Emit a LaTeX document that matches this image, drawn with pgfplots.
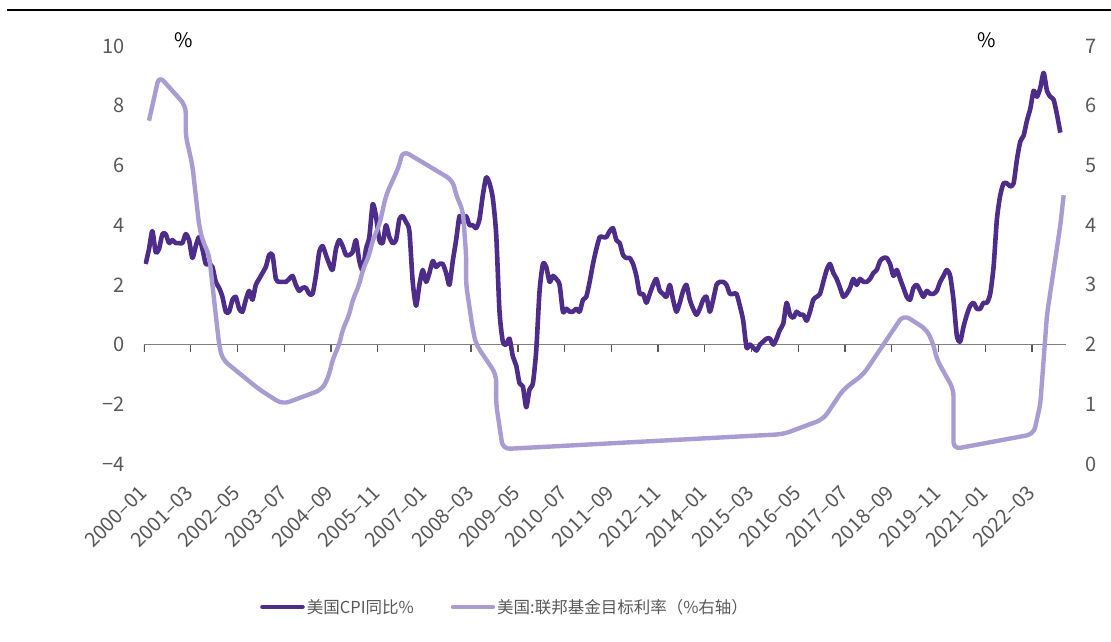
\documentclass[border=0pt]{standalone}
\usepackage{fontspec}
\setmainfont{Noto Sans CJK SC}
\usepackage{pgfplots}
\usepackage{pgfplotstable}
\pgfplotsset{compat=1.18}
\usetikzlibrary{calc}

\definecolor{cpicol}{RGB}{77,45,137}
\definecolor{ffrcol}{RGB}{168,156,210}
\definecolor{tickgray}{RGB}{89,89,89}
\definecolor{axisgray}{RGB}{128,128,128}
\newcommand\tickfont{\fontsize{20}{24}\selectfont}
\newcommand\xtickfont{\fontsize{20}{24}\selectfont}
\newcommand\legfont{\fontsize{16.5}{19}\selectfont}

% US CPI yoy, monthly 2000-01 .. 2022-11
\pgfplotstableread[header=false,row sep=\\]{
2.7\\3.2\\3.8\\3.1\\3.2\\3.7\\3.7\\3.4\\3.5\\3.4\\3.4\\3.4\\
3.7\\3.5\\2.9\\3.3\\3.6\\3.2\\2.7\\2.7\\2.6\\2.1\\1.9\\1.6\\
1.1\\1.1\\1.5\\1.6\\1.2\\1.1\\1.5\\1.8\\1.5\\2.0\\2.2\\2.4\\
2.6\\3.0\\3.0\\2.2\\2.1\\2.1\\2.1\\2.2\\2.3\\2.0\\1.8\\1.9\\
1.9\\1.7\\1.7\\2.3\\3.1\\3.3\\3.0\\2.7\\2.5\\3.2\\3.5\\3.3\\
3.0\\3.0\\3.1\\3.5\\2.8\\2.5\\3.2\\3.6\\4.7\\4.3\\3.5\\3.4\\
4.0\\3.6\\3.4\\3.5\\4.2\\4.3\\4.1\\3.8\\2.1\\1.3\\2.0\\2.5\\
2.1\\2.4\\2.8\\2.6\\2.7\\2.7\\2.4\\2.0\\2.8\\3.5\\4.3\\4.1\\
4.3\\4.0\\4.0\\3.9\\4.2\\5.0\\5.6\\5.4\\4.9\\3.7\\1.1\\0.1\\
0.0\\0.2\\-0.4\\-0.7\\-1.3\\-1.4\\-2.1\\-1.5\\-1.3\\-0.2\\1.8\\2.7\\
2.6\\2.1\\2.3\\2.2\\2.0\\1.1\\1.2\\1.1\\1.1\\1.2\\1.1\\1.5\\
1.6\\2.1\\2.7\\3.2\\3.6\\3.6\\3.6\\3.8\\3.9\\3.5\\3.4\\3.0\\
2.9\\2.9\\2.7\\2.3\\1.7\\1.7\\1.4\\1.7\\2.0\\2.2\\1.8\\1.7\\
1.6\\2.0\\1.5\\1.1\\1.4\\1.8\\2.0\\1.5\\1.2\\1.0\\1.2\\1.5\\
1.6\\1.1\\1.5\\2.0\\2.1\\2.1\\2.0\\1.7\\1.7\\1.7\\1.3\\0.8\\
-0.1\\0.0\\-0.1\\-0.2\\0.0\\0.1\\0.2\\0.2\\0.0\\0.2\\0.5\\0.7\\
1.4\\1.0\\0.9\\1.1\\1.0\\1.0\\0.8\\1.1\\1.5\\1.6\\1.7\\2.1\\
2.5\\2.7\\2.4\\2.2\\1.9\\1.6\\1.7\\1.9\\2.2\\2.0\\2.2\\2.1\\
2.1\\2.2\\2.4\\2.5\\2.8\\2.9\\2.9\\2.7\\2.3\\2.5\\2.2\\1.9\\
1.6\\1.5\\1.9\\2.0\\1.8\\1.6\\1.8\\1.7\\1.7\\1.8\\2.1\\2.3\\
2.5\\2.3\\1.5\\0.3\\0.1\\0.6\\1.0\\1.3\\1.4\\1.2\\1.2\\1.4\\
1.4\\1.7\\2.6\\4.2\\5.0\\5.4\\5.4\\5.3\\5.4\\6.2\\6.8\\7.0\\
7.5\\7.9\\8.5\\8.3\\8.6\\9.1\\8.5\\8.3\\8.2\\7.7\\7.1\\
}\cpidata

% Fed funds target (upper), at the month of each change (0 = 2000-01)
\pgfplotstableread{
m r
1 5.75
2 6.00
4 6.50
12 6.00
12 5.50
14 5.00
15 4.50
16 4.00
17 3.75
19 3.50
20 3.00
21 2.50
22 2.00
23 1.75
34 1.25
41 1.00
53 1.25
55 1.50
56 1.75
58 2.00
59 2.25
61 2.50
62 2.75
64 3.00
65 3.25
67 3.50
68 3.75
70 4.00
71 4.25
72 4.50
74 4.75
76 5.00
77 5.25
92 4.75
93 4.50
95 4.25
96 3.50
96 3.00
98 2.25
99 2.00
105 1.50
105 1.00
107 0.25
191 0.50
203 0.75
206 1.00
209 1.25
215 1.50
218 1.75
221 2.00
224 2.25
227 2.50
234 2.25
236 2.00
237 1.75
242 1.25
242 0.25
266 0.50
268 1.00
269 1.75
270 2.50
272 3.25
274 4.00
275 4.50
}\ffrdata

\begin{document}
\begin{tikzpicture}
\begin{axis}[
  name=ax, scale only axis, width=922pt, height=418pt,
  xmin=-0.5, xmax=275.7, ymin=-4, ymax=10,
  axis line style={draw=none}, major tick length=0pt,
  xtick={-0.5,13.5,...,265.5},
  xticklabels={2000--01,2001--03,2002--05,2003--07,2004--09,2005--11,2007--01,2008--03,2009--05,2010--07,2011--09,2012--11,2014--01,2015--03,2016--05,2017--07,2018--09,2019--11,2021--01,2022--03},
  xticklabel style={font=\xtickfont, text=tickgray, inner sep=0pt, xshift=-1pt, yshift=-25pt, rotate=45, anchor=east},
  ytick={-4,-2,...,10},
  yticklabels={−4,−2,0,2,4,6,8,10},
  yticklabel style={font=\tickfont, text=tickgray, inner sep=0pt, anchor=east, xshift=-19pt},
  legend style={at={(0.1258,-0.342)}, anchor=west, draw=none, fill=none,
    inner sep=0pt, font=\legfont, text=tickgray, legend columns=2,
    /tikz/every even column/.append style={column sep=35pt}},
  legend image code/.code={\draw[#1, line cap=round] (0pt,0pt) -- (40pt,0pt);},
]
\draw[axisgray, line width=1.4pt] (axis cs:-0.5,0) -- (axis cs:275.7,0);
\pgfplotsinvokeforeach{-0.5,13.5,...,265.5}{
  \draw[tickgray, line width=1.3pt] (axis cs:#1,0) -- ++(0pt,-7pt);
}
\addplot[cpicol, line width=4.6pt, smooth, tension=0.4, line join=round]
  table[x expr=\coordindex, y index=0] {\cpidata};
\addlegendentry{美国CPI同比\%}
\addlegendimage{ffrcol, line width=4.4pt}
\addlegendentry{美国:联邦基金目标利率（\%右轴）}
\end{axis}

\begin{axis}[
  scale only axis, width=922pt, height=418pt,
  xmin=-0.5, xmax=275.7, ymin=0, ymax=7,
  axis line style={draw=none}, major tick length=0pt,
  xtick=\empty, ytick={0,1,...,7},
  yticklabels={0,1,2,3,4,5,6,7},
  yticklabel pos=right,
  yticklabel style={font=\tickfont, text=tickgray, inner sep=0pt, anchor=west, xshift=19pt},
]
\addplot[ffrcol, line width=4.4pt, rounded corners=7pt, line join=round]
  table[x=m, y=r] {\ffrdata};
\end{axis}

\node[font=\fontsize{20}{24}\selectfont] at ($(ax.south west)+(40pt,424pt)$) {\%};
\node[font=\fontsize{20}{24}\selectfont] at ($(ax.south west)+(843pt,424pt)$) {\%};
\draw[black, line width=2.2pt] ($(ax.south west)+(-137pt,454pt)$) -- ++(1104pt,0pt);

\pgfresetboundingbox
\path[use as bounding box] ($(ax.south west)+(-144pt,-177pt)$) rectangle ($(ax.south west)+(967pt,464pt)$);
\end{tikzpicture}
\end{document}
